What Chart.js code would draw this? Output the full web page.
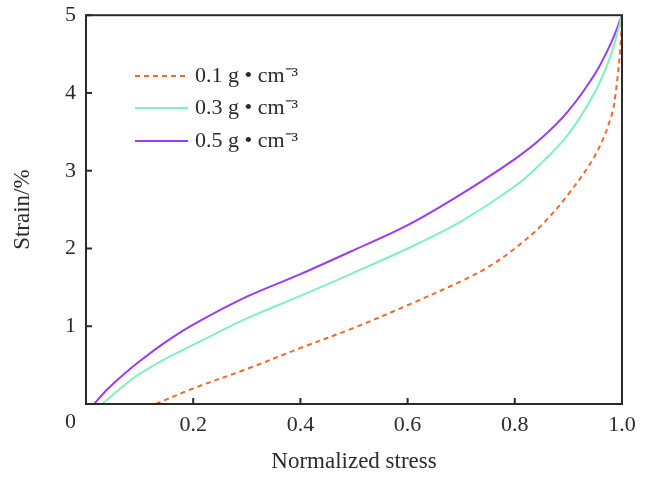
<!DOCTYPE html>
<html>
<head>
<meta charset="utf-8">
<script src="https://cdn.jsdelivr.net/npm/chart.js@4/dist/chart.umd.min.js"></script>
<style>
  body { margin: 0; background: #fff; }
  #wrap { width: 650px; height: 480px; }
</style>
</head>
<body>
<div id="wrap"><canvas id="chart"></canvas></div>
<script>
// series: x = normalized stress, y = strain (%)
var labels = ["0.1 g \u2022 cm\u207B\u00B3", "0.3 g \u2022 cm\u207B\u00B3", "0.5 g \u2022 cm\u207B\u00B3"];
var colors = ["#f5692a", "#7ff0c2", "#9a3cf5"];

var stress01 = [0.13, 0.2, 0.3, 0.4, 0.5, 0.6, 0.7, 0.75, 0.8, 0.85, 0.9, 0.95, 0.98, 0.99, 0.997, 1.0];
var strain01 = [0, 0.2, 0.45, 0.72, 0.98, 1.27, 1.58, 1.76, 2.0, 2.3, 2.7, 3.2, 3.7, 4.1, 4.6, 5.0];

var stress03 = [0.03, 0.09, 0.14, 0.2, 0.3, 0.4, 0.5, 0.6, 0.7, 0.8, 0.85, 0.9, 0.95, 0.98, 1.0];
var strain03 = [0, 0.34, 0.55, 0.76, 1.1, 1.39, 1.69, 2.0, 2.35, 2.8, 3.1, 3.47, 4.02, 4.5, 5.0];

var stress05 = [0.015, 0.04, 0.07, 0.1, 0.145, 0.2, 0.3, 0.4, 0.5, 0.6, 0.7, 0.8, 0.85, 0.9, 0.95, 0.98, 1.0];
var strain05 = [0, 0.19, 0.38, 0.55, 0.78, 1.02, 1.38, 1.67, 1.98, 2.3, 2.7, 3.15, 3.42, 3.77, 4.25, 4.65, 5.0];

var xTicks = [0, 0.2, 0.4, 0.6, 0.8, 1.0];
var yTicks = [0, 1, 2, 3, 4, 5];

function pts(xs, ys) {
  return xs.map(function (x, i) { return { x: x, y: ys[i] } })
}

var serif = "'Liberation Serif', 'Times New Roman', serif";
var ink = "#2b2b2b";

// box, inward ticks, origin label and legend
var frame = {
  id: 'frame',
  afterDraw: function (chart) {
    var c = chart.ctx, a = chart.chartArea;
    var xs = chart.scales.x, ys = chart.scales.y;
    c.save();
    c.strokeStyle = ink;
    c.lineWidth = 2;
    c.strokeRect(a.left, a.top, a.right - a.left, a.bottom - a.top);
    xTicks.forEach(function (v) {
      var px = xs.getPixelForValue(v);
      c.beginPath(); c.moveTo(px, a.bottom); c.lineTo(px, a.bottom - 6); c.stroke();
    });
    yTicks.forEach(function (v) {
      var py = ys.getPixelForValue(v);
      c.beginPath(); c.moveTo(a.left, py); c.lineTo(a.left + 6, py); c.stroke();
    });
    c.fillStyle = ink;
    c.font = "22px " + serif;
    c.textAlign = 'right';
    c.textBaseline = 'middle';
    c.fillText("0", a.left - 10, a.bottom + 18);

    // legend
    var rows = [76, 108, 141];
    c.font = "22px " + serif;
    chart.data.datasets.forEach(function (ds, i) {
      c.strokeStyle = ds.borderColor;
      c.lineWidth = 2;
      c.setLineDash(ds.borderDash || []);
      c.beginPath(); c.moveTo(135, rows[i]); c.lineTo(188, rows[i]); c.stroke();
      c.setLineDash([]);
      c.fillStyle = ink;
      c.textAlign = 'left';
      c.fillText(ds.label, 195, rows[i]);
    });
    c.restore();
  }
};

new Chart(document.getElementById("chart"), {
  type: 'scatter',
  data: {
    datasets: [
      { label: labels[0], data: pts(stress01, strain01), borderColor: colors[0], borderDash: [5, 4] },
      { label: labels[1], data: pts(stress03, strain03), borderColor: colors[1] },
      { label: labels[2], data: pts(stress05, strain05), borderColor: colors[2] }
    ].map(function (d) {
      d.showLine = true;
      d.borderWidth = 2;
      d.pointRadius = 0;
      d.tension = 0.35;
      d.clip = false;
      return d
    })
  },
  options: {
    responsive: true,
    maintainAspectRatio: false,
    animation: false,
    layout: { padding: { top: 12, right: 28, left: 5, bottom: 0 } },
    plugins: { legend: { display: false }, tooltip: { enabled: false } },
    scales: {
      x: {
        type: 'linear', min: 0, max: 1,
        afterBuildTicks: function (s) { s.ticks = xTicks.map(function (v) { return { value: v } }) },
        afterFit: function (s) { s.height = 76 },
        grid: { display: false },
        border: { display: false },
        ticks: {
          color: ink, padding: 0, font: { family: serif, size: 22 },
          callback: function (v) { return v === 0 ? '' : v.toFixed(1) }
        },
        title: { display: true, text: 'Normalized stress', color: ink, font: { family: serif, size: 23 }, padding: { top: 13 } }
      },
      y: {
        type: 'linear', min: 0, max: 5,
        afterBuildTicks: function (s) { s.ticks = yTicks.map(function (v) { return { value: v } }) },
        afterFit: function (s) { s.width = 81 },
        grid: { display: false },
        border: { display: false },
        ticks: {
          color: ink, padding: 2, font: { family: serif, size: 22 },
          callback: function (v) { return v === 0 ? '' : String(v) }
        },
        title: { display: true, text: 'Strain/%', color: ink, font: { family: serif, size: 23 }, padding: { bottom: 8 } }
      }
    }
  },
  plugins: [frame]
});
</script>
</body>
</html>
